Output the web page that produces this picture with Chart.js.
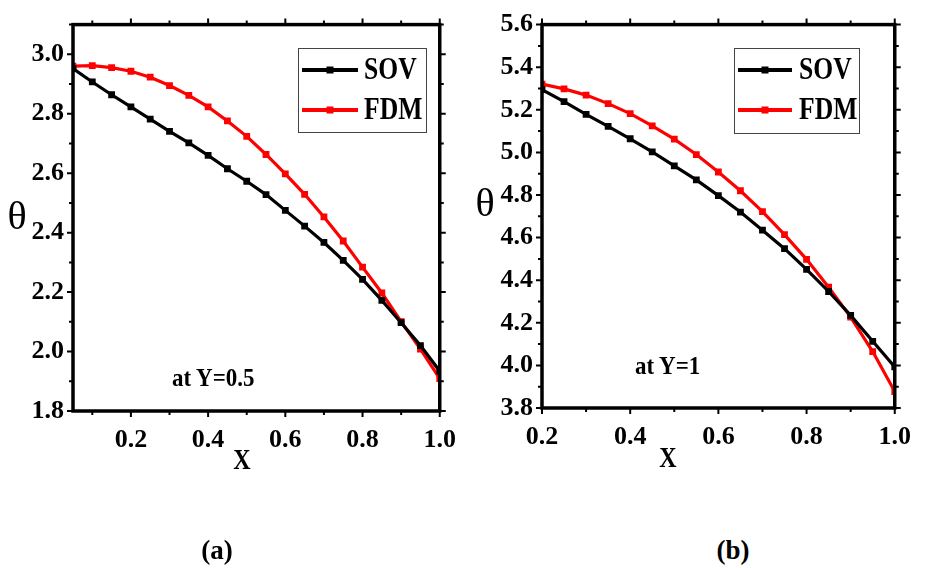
<!DOCTYPE html>
<html lang="en">
<head>
  <meta charset="UTF-8" />
  <title>SOV vs FDM</title>
  <script src="https://cdn.jsdelivr.net/npm/chart.js"></script>
  <style>
    body { margin: 0; background: #fff; width: 925px; height: 568px; position: relative; overflow: hidden; font-family: "Liberation Serif", serif; }
    canvas { position: absolute; top: 0; }
    .lbl { position: absolute; color: #000; white-space: nowrap; transform: translate(-50%, -50%); line-height: 1; }
    .note { position: absolute; font-weight: bold; font-size: 25px; white-space: nowrap; line-height: 1; transform: translateY(-50%) scaleX(0.92); transform-origin: left center; }
  </style>
</head>
<body>
  <!-- panel canvases -->
  <div style="position:absolute;left:0;top:0;width:470px;height:480px"><canvas id="chartA"></canvas></div>
  <div style="position:absolute;left:462px;top:0;width:463px;height:480px"><canvas id="chartB"></canvas></div>

  <!-- axis titles, notes and captions -->
  <div class="lbl" style="left:17px;top:216px;font-size:40px">θ</div>
  <div class="lbl" style="left:485px;top:203px;font-size:40px">θ</div>
  <div class="lbl" style="left:242px;top:459px;font-size:30px;font-weight:bold;transform:translate(-50%,-50%) scaleX(0.8)">X</div>
  <div class="lbl" style="left:668px;top:457px;font-size:30px;font-weight:bold;transform:translate(-50%,-50%) scaleX(0.8)">X</div>
  <div class="note" style="left:172px;top:377px">at Y=0.5</div>
  <div class="note" style="left:635px;top:365px">at Y=1</div>
  <div class="lbl" style="left:217px;top:550px;font-size:27px;font-weight:bold">(a)</div>
  <div class="lbl" style="left:733px;top:550px;font-size:27px;font-weight:bold">(b)</div>

  <script>
    // ---- data, panel (a): at Y=0.5 ----
    const xA = [0.05, 0.1, 0.15, 0.2, 0.25, 0.3, 0.35, 0.4, 0.45, 0.5, 0.55, 0.6, 0.65, 0.7, 0.75, 0.8, 0.85, 0.9, 0.95, 1.0];
    const sovA = [2.952, 2.907, 2.864, 2.823, 2.782, 2.741, 2.702, 2.660, 2.615, 2.573, 2.528, 2.475, 2.422, 2.367, 2.307, 2.243, 2.172, 2.097, 2.020, 1.934];
    const fdmA = [2.960, 2.962, 2.955, 2.943, 2.923, 2.895, 2.862, 2.823, 2.776, 2.724, 2.663, 2.598, 2.529, 2.453, 2.372, 2.284, 2.197, 2.101, 2.008, 1.909];
    const xTicksA = [0.2, 0.4, 0.6, 0.8, 1.0];
    const yTicksA = [1.8, 2.0, 2.2, 2.4, 2.6, 2.8, 3.0];

    // ---- data, panel (b): at Y=1 ----
    const xB = [0.2, 0.25, 0.3, 0.35, 0.4, 0.45, 0.5, 0.55, 0.6, 0.65, 0.7, 0.75, 0.8, 0.85, 0.9, 0.95, 1.0];
    const sovB = [5.295, 5.238, 5.179, 5.122, 5.064, 5.002, 4.937, 4.871, 4.797, 4.720, 4.635, 4.548, 4.451, 4.347, 4.235, 4.113, 3.993];
    const fdmB = [5.321, 5.298, 5.269, 5.229, 5.182, 5.125, 5.062, 4.990, 4.908, 4.820, 4.722, 4.614, 4.498, 4.367, 4.227, 4.065, 3.877];
    const xTicksB = [0.2, 0.4, 0.6, 0.8, 1.0];
    const yTicksB = [3.8, 4.0, 4.2, 4.4, 4.6, 4.8, 5.0, 5.2, 5.4, 5.6];

    const seriesNames = ["SOV", "FDM"];
    const seriesColors = ["#000000", "#ff0000"];

    const FONT = "Liberation Serif";

    // frame + short outward ticks (major every 0.2, minor every 0.1) on all four sides
    const framePlugin = {
      id: "frame",
      afterDraw(chart) {
        const { ctx, chartArea: a, scales } = chart;
        const step = 0.1;
        const isMajor = v => Math.abs(Math.round(v * 5) - v * 5) < 1e-6;
        ctx.save();
        ctx.strokeStyle = "#000";
        ctx.lineWidth = 2;
        const xs = scales.x, ys = scales.y;
        for (let i = Math.ceil(xs.min / step - 1e-6); i * step <= xs.max + 1e-6; i++) {
          const v = i * step, px = xs.getPixelForValue(v), len = isMajor(v) ? 6 : 4;
          ctx.beginPath();
          ctx.moveTo(px, a.bottom); ctx.lineTo(px, a.bottom + len);
          ctx.moveTo(px, a.top); ctx.lineTo(px, a.top - len);
          ctx.stroke();
        }
        for (let i = Math.ceil(ys.min / step - 1e-6); i * step <= ys.max + 1e-6; i++) {
          const v = i * step, py = ys.getPixelForValue(v), len = isMajor(v) ? 6 : 4;
          ctx.beginPath();
          ctx.moveTo(a.left, py); ctx.lineTo(a.left - len, py);
          ctx.moveTo(a.right, py); ctx.lineTo(a.right + len, py);
          ctx.stroke();
        }
        ctx.lineWidth = 3.5;
        ctx.strokeRect(a.left, a.top, a.right - a.left, a.bottom - a.top);
        ctx.restore();
      }
    };

    // boxed legend with line + square marker
    const boxLegendPlugin = {
      id: "boxLegend",
      afterDraw(chart, args, o) {
        const { ctx } = chart;
        ctx.save();
        ctx.strokeStyle = "#444";
        ctx.lineWidth = 1;
        ctx.strokeRect(o.x + 0.5, o.y + 0.5, o.w, o.h);
        chart.data.datasets.forEach((ds, i) => {
          const y = o.rows[i];
          ctx.strokeStyle = ds.borderColor;
          ctx.lineWidth = 4;
          ctx.beginPath();
          ctx.moveTo(o.lineX0, y); ctx.lineTo(o.lineX1, y);
          ctx.stroke();
          ctx.fillStyle = ds.borderColor;
          const mx = (o.lineX0 + o.lineX1) / 2;
          ctx.fillRect(mx - 3.5, y - 3.5, 7, 7);
          ctx.fillStyle = "#000";
          ctx.font = "bold 32px '" + FONT + "'";
          ctx.textBaseline = "middle";
          ctx.translate(o.textX, y + 1);
          ctx.scale(0.8, 1);
          ctx.fillText(ds.label, 0, 0);
          ctx.setTransform(1, 0, 0, 1, 0, 0);
        });
        ctx.restore();
      }
    };

    function makeChart(id, xv, sov, fdm, xTicks, yTicks, xr, yr, yAxisW, xAxisH, pad, legend) {
      const pts = arr => arr.map((v, i) => ({ x: xv[i], y: v }));
      const tickFont = { family: FONT, size: 26, weight: "bold" };
      return new Chart(document.getElementById(id), {
        type: "line",
        data: {
          datasets: [sov, fdm].map((arr, i) => ({
            label: seriesNames[i],
            data: pts(arr),
            borderColor: seriesColors[i],
            backgroundColor: seriesColors[i],
            borderWidth: 3.2,
            pointStyle: "rect",
            pointRadius: 4.8,
            pointBorderWidth: 0,
            tension: 0
          }))
        },
        options: {
          responsive: true,
          maintainAspectRatio: false,
          animation: false,
          layout: { padding: pad },
          plugins: { legend: { display: false }, tooltip: { enabled: false }, boxLegend: legend },
          scales: {
            x: {
              type: "linear", min: xr[0], max: xr[1],
              grid: { display: false, drawTicks: false },
              border: { display: false },
              afterBuildTicks: s => { s.ticks = xTicks.map(v => ({ value: v })); },
              afterFit: s => { s.height = xAxisH; },
              ticks: { color: "#000", font: tickFont, padding: 14, maxRotation: 0, callback: v => Number(v).toFixed(1) }
            },
            y: {
              min: yr[0], max: yr[1],
              grid: { display: false, drawTicks: false },
              border: { display: false },
              afterBuildTicks: s => { s.ticks = yTicks.map(v => ({ value: v })); },
              afterFit: s => { s.width = yAxisW; },
              ticks: { color: "#000", font: tickFont, padding: 9, callback: v => Number(v).toFixed(1) }
            }
          }
        },
        plugins: [framePlugin, boxLegendPlugin]
      });
    }

    makeChart("chartA", xA, sovA, fdmA, xTicksA, yTicksA, [0.05, 1.0], [1.8, 3.1], 73, 69,
      { top: 23, right: 23, bottom: 0, left: 0 },
      { x: 298, y: 48, w: 128, h: 84, rows: [70, 110], lineX0: 302, lineX1: 358, textX: 364 });

    makeChart("chartB", xB, sovB, fdmB, xTicksB, yTicksB, [0.2, 1.0], [3.8, 5.6], 80, 72,
      { top: 19, right: 19, bottom: 0, left: 0 },
      { x: 272, y: 48, w: 125, h: 85, rows: [70, 110], lineX0: 276, lineX1: 330, textX: 337 });
  </script>
</body>
</html>
